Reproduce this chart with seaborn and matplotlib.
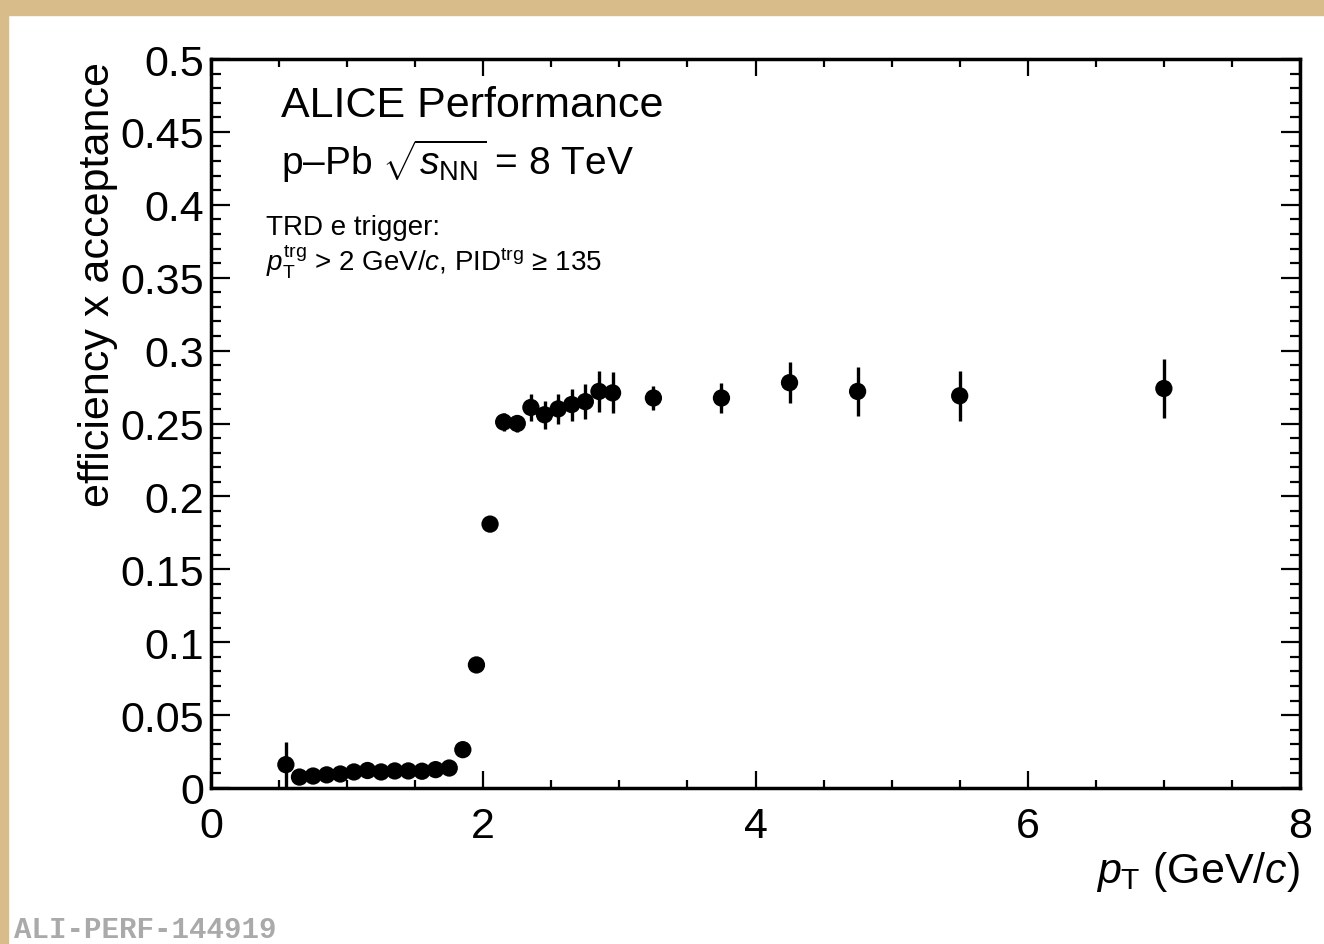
import matplotlib
matplotlib.use("Agg")
import matplotlib.pyplot as plt
import seaborn as sns
import pandas as pd
from matplotlib.patches import Rectangle
from matplotlib.ticker import MultipleLocator

# values
pt = [0.55, 0.65, 0.75, 0.85, 0.95, 1.05, 1.15, 1.25, 1.35, 1.45, 1.55, 1.65, 1.75,
      1.85, 1.95, 2.05, 2.15, 2.25, 2.35, 2.45, 2.55, 2.65, 2.75, 2.85, 2.95,
      3.25, 3.75, 4.25, 4.75, 5.5, 7.0]
eff = [0.016, 0.0075, 0.0082, 0.009, 0.0096, 0.011, 0.012, 0.011, 0.0117, 0.0117, 0.0115, 0.0126, 0.0137,
       0.0263, 0.0844, 0.181, 0.251, 0.250, 0.261, 0.256, 0.260, 0.263, 0.265, 0.272, 0.271,
       0.2675, 0.2675, 0.278, 0.272, 0.269, 0.274]
err = [0.0157, 0.001, 0.001, 0.001, 0.001, 0.001, 0.001, 0.001, 0.001, 0.001, 0.001, 0.001, 0.001,
       0.002, 0.002, 0.002, 0.006, 0.006, 0.009, 0.0096, 0.010, 0.011, 0.012, 0.014, 0.014,
       0.008, 0.010, 0.014, 0.017, 0.017, 0.020]
ytick_vals = [0, 0.05, 0.1, 0.15, 0.2, 0.25, 0.3, 0.35, 0.4, 0.45, 0.5]
ytick_labels = ["0", "0.05", "0.1", "0.15", "0.2", "0.25", "0.3", "0.35", "0.4", "0.45", "0.5"]

df = pd.DataFrame({"pt": pt, "eff": eff, "err": err})

sns.set_style("ticks")
plt.rcParams["font.family"] = ["Liberation Sans", "DejaVu Sans"]
plt.rcParams["mathtext.fontset"] = "custom"
plt.rcParams["mathtext.rm"] = "Liberation Sans"
plt.rcParams["mathtext.it"] = "Liberation Sans:italic"
plt.rcParams["mathtext.sf"] = "Liberation Sans"
plt.rcParams["text.color"] = "black"
plt.rcParams["axes.labelcolor"] = "black"
plt.rcParams["axes.edgecolor"] = "black"
plt.rcParams["xtick.color"] = "black"
plt.rcParams["ytick.color"] = "black"

W, H = 1324, 945
fig = plt.figure(figsize=(W / 100, H / 100), dpi=100, facecolor="white")
tan = "#d8bd8a"
fig.patches.append(Rectangle((0, 1 - 16 / H), 1, 16 / H, transform=fig.transFigure, color=tan, zorder=0))
fig.patches.append(Rectangle((0, 0), 8 / W, 1, transform=fig.transFigure, color=tan, zorder=0))

ax = fig.add_axes([211 / W, (H - 789) / H, (1300 - 211) / W, (789 - 60) / H])

ax.errorbar(df["pt"], df["eff"], yerr=df["err"], fmt="none", ecolor="black",
            elinewidth=2.4, capsize=0, zorder=2)
sns.scatterplot(data=df, x="pt", y="eff", ax=ax, color="black", s=155,
                edgecolor="none", zorder=3, legend=False)

ax.set_xlim(0, 8)
ax.set_ylim(0, 0.5)
ax.xaxis.set_major_locator(MultipleLocator(2))
ax.xaxis.set_minor_locator(MultipleLocator(0.5))
ax.yaxis.set_minor_locator(MultipleLocator(0.01))
ax.set_yticks(ytick_vals)
ax.set_yticklabels(ytick_labels)

for s in ax.spines.values():
    s.set_linewidth(2.5)
    s.set_visible(True)
    s.set_color("black")
ax.tick_params(which="both", direction="in", top=True, right=True, width=1.6, colors="black")
ax.tick_params(axis="x", which="major", length=12, pad=13, labelsize=31)
ax.tick_params(axis="x", which="minor", length=6)
ax.tick_params(axis="y", which="major", length=14, pad=5, labelsize=31)
ax.tick_params(axis="y", which="minor", length=7)

ax.set_xlabel(r"$p_{\rm T}$ (GeV/$c$)", fontsize=31, ha="right")
ax.xaxis.set_label_coords(1.0, -0.084)
ax.set_ylabel("efficiency x acceptance", fontsize=31)
ax.yaxis.set_label_coords(-0.085, 0.692)

ax.text(0.514, 0.4609, "ALICE Performance", fontsize=31, va="baseline")
ax.text(0.514, 0.4211, r"p–Pb $\sqrt{s_{\rm NN}}$ = 8 TeV", fontsize=28, va="baseline")
ax.text(0.404, 0.380, "TRD e trigger:", fontsize=20, va="baseline")
ax.text(0.404, 0.355, r"$p_{\rm T}^{\rm trg}$ > 2 GeV/$c$, PID$^{\rm trg}$ ≥ 135", fontsize=20, va="baseline")

fig.text(14 / W, (H - 938) / H, "ALI-PERF-144919", family="Liberation Mono", weight="bold",
         color="#aaaaaa", fontsize=21, va="baseline")

fig.savefig("out.png", dpi=100, facecolor=fig.get_facecolor())
